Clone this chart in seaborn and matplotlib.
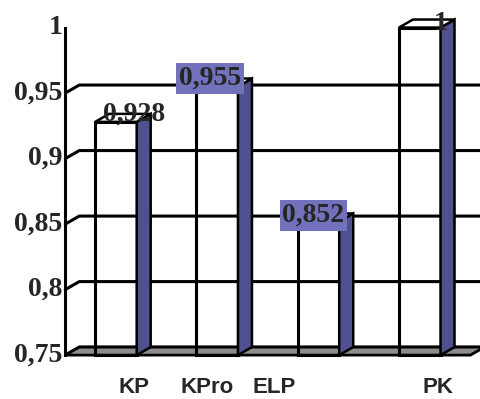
import matplotlib
matplotlib.use("Agg")
import matplotlib.pyplot as plt
from matplotlib.patches import Polygon
from matplotlib.transforms import ScaledTranslation
import pandas as pd
import seaborn as sns

categories = ["KP", "KPro", "ELP", "PK"]
values = [0.928, 0.955, 0.852, 1.0]
value_labels = ["0,928", "0,955", "0,852", "1"]
boxed = [False, True, True, False]
y_ticks = [0.75, 0.8, 0.85, 0.9, 0.95, 1.0]
y_tick_labels = ["0,75", "0,8", "0,85", "0,9", "0,95", "1"]

# layout: where the category names sit along the axis, and label nudges (pixels)
name_x = [0.18, 0.90, 1.56, 3.18]
label_dx = [18, -7, -5, 21]
label_dy = [8, 8, 6, 4]

side_blue = "#50508e"
box_blue = "#7272bc"
floor_grey = "#8c8c8c"
depth_px = (14, 8)

df = pd.DataFrame({"name": categories, "value": values})

sns.set_style("white")
fig = plt.figure(figsize=(4.8, 3.99), dpi=100)
ax = fig.add_axes([0.136, 0.110, 0.844, 0.821])

sns.barplot(data=df, x="name", y="value", width=0.41, fill=False,
            color="black", linewidth=2.2, ax=ax, zorder=3)
ax.set_xlim(-0.5, 3.5)
ax.set_ylim(0.75, 1.0)

# pixel depth -> data units
bb = ax.get_window_extent()
dx = depth_px[0] * 4.0 / bb.width
dy = depth_px[1] * 0.25 / bb.height

# back-wall gridlines with the little diagonal connector on the left (none at the top)
for v in y_ticks[:-1]:
    ax.plot([-0.5, -0.5 + dx, 3.7], [v, v + dy, v + dy], color="black",
            lw=2.2, clip_on=False, zorder=2)

# floor
floor = Polygon([(-0.5, 0.75), (3.5, 0.75), (3.5 + dx, 0.75 + dy), (-0.5 + dx, 0.75 + dy)],
                closed=True, fc=floor_grey, ec="black", lw=2, clip_on=False, zorder=2.5)
ax.add_patch(floor)

# 3D sides and tops
for p, v in zip(ax.patches[:len(values)], values):
    p.set_y(0.75)
    p.set_height(v - 0.75)
    p.set_edgecolor("black")
    p.set_clip_on(False)
    x0 = p.get_x()
    x1 = x0 + p.get_width()
    side = Polygon([(x1, 0.75), (x1, v), (x1 + dx, v + dy), (x1 + dx, 0.75 + dy)],
                   closed=True, fc=side_blue, ec="black", lw=1.8, clip_on=False, zorder=4)
    top = Polygon([(x0, v), (x1, v), (x1 + dx, v + dy), (x0 + dx, v + dy)],
                  closed=True, fc="white", ec="black", lw=1.8, clip_on=False, zorder=4)
    ax.add_patch(side)
    ax.add_patch(top)

# value labels
for i, (v, lab) in enumerate(zip(values, value_labels)):
    kw = {}
    if boxed[i]:
        kw["bbox"] = dict(boxstyle="square,pad=0.1", fc=box_blue, ec="none")
    ax.annotate(lab, xy=(i, v), xytext=(label_dx[i], label_dy[i]),
                textcoords="offset pixels", ha="center", va="center",
                fontsize=20, fontweight="bold", family="Liberation Serif",
                zorder=6, annotation_clip=False, **kw)

ax.set_yticks(y_ticks)
ax.set_yticklabels(y_tick_labels, fontsize=20, fontweight="bold", family="Liberation Serif")
ax.tick_params(axis="y", length=0, pad=2)
lift = ScaledTranslation(0, 0.03, fig.dpi_scale_trans)
for lab in ax.get_yticklabels():
    lab.set_transform(lab.get_transform() + lift)

ax.set_xticks(name_x)
ax.set_xticklabels(categories, fontsize=16, fontweight="bold", family="Liberation Sans")
ax.set_xticks([0.5, 1.5, 2.5], minor=True)
ax.tick_params(axis="x", which="major", length=0, pad=16)
ax.tick_params(axis="x", which="minor", length=4, width=2, color="black", direction="out")

ax.set_xlabel("")
ax.set_ylabel("")
for s in ["top", "right", "bottom"]:
    ax.spines[s].set_visible(False)
ax.spines["left"].set_linewidth(2.2)
ax.spines["left"].set_color("black")
ax.spines["left"].set_zorder(5)

fig.savefig("out.png", dpi=100)
